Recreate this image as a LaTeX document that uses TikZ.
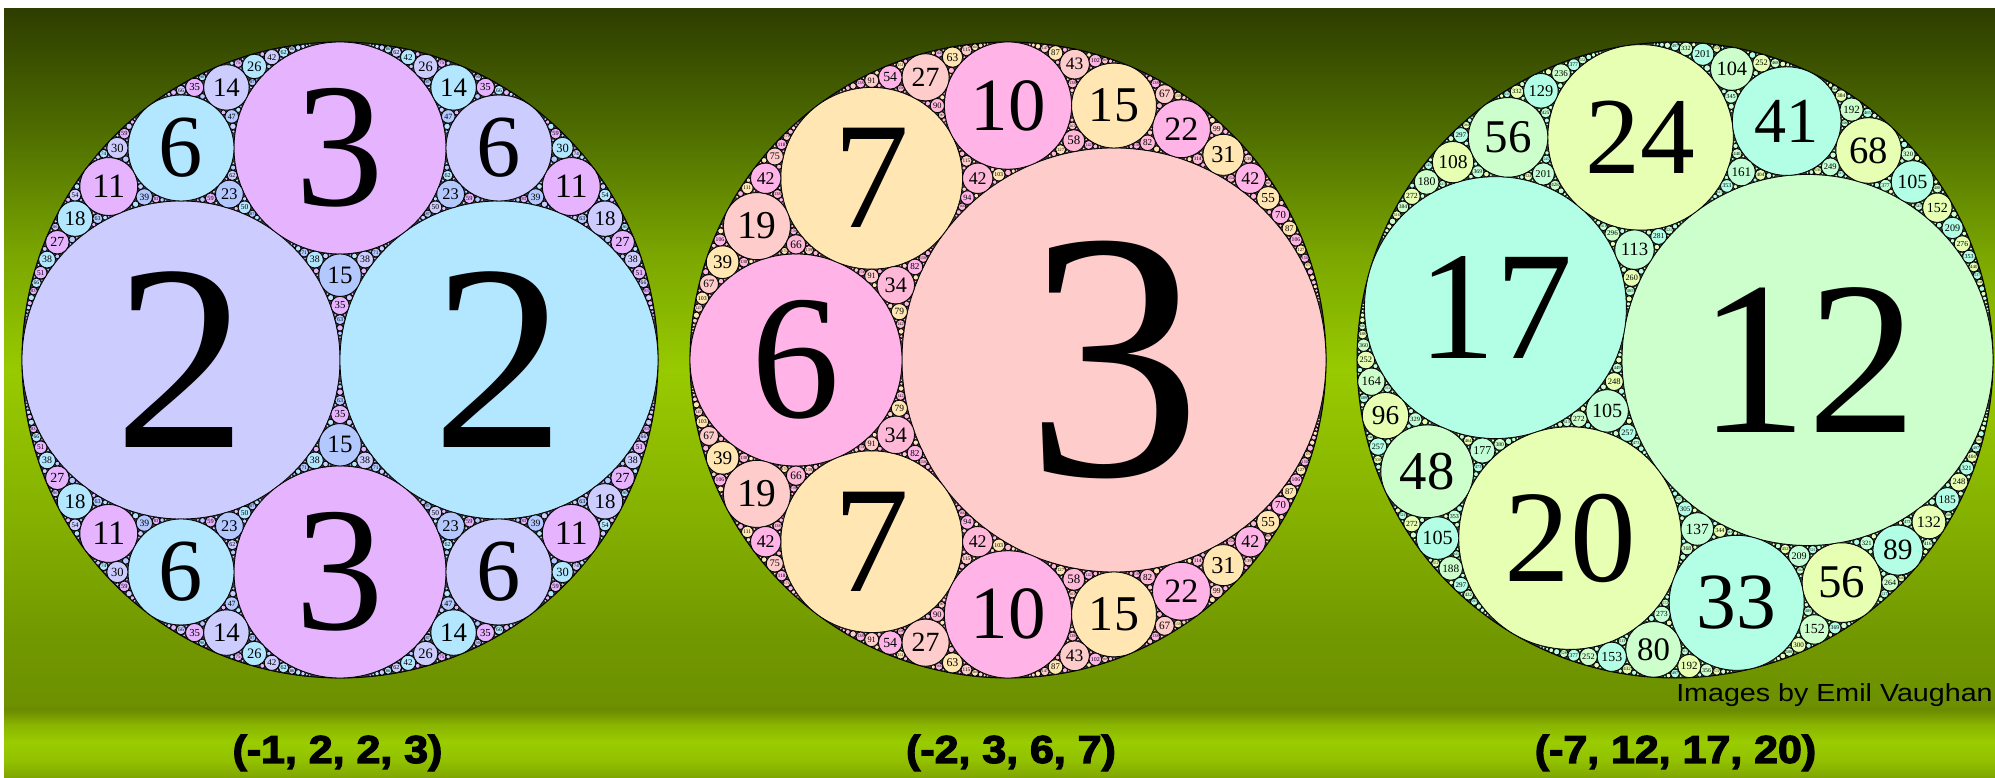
\documentclass[tikz,border=0pt]{standalone}
\usepackage{fontspec}
\setmainfont{Liberation Serif}
\newfontfamily\capfont{Liberation Sans}[BoldFeatures={FakeBold=3}]
\newfontfamily\credfont{Liberation Sans}

\definecolor{gapcol}{HTML}{3A3A3A}
\definecolor{gA1}{HTML}{B3C8FF}
\definecolor{gA2}{HTML}{CCCCFF}
\definecolor{gA3}{HTML}{B3E6FF}
\definecolor{gA4}{HTML}{E6B3FF}
\definecolor{gB1}{HTML}{FFB8D8}
\definecolor{gB2}{HTML}{FFCCCC}
\definecolor{gB3}{HTML}{FFB3E6}
\definecolor{gB4}{HTML}{FFE6B3}
\definecolor{gC1}{HTML}{C2FFD6}
\definecolor{gC2}{HTML}{CCFFCC}
\definecolor{gC3}{HTML}{B3FFE6}
\definecolor{gC4}{HTML}{E6FFB3}

\definecolor{m0}{HTML}{6C9000}
\definecolor{m1}{HTML}{729800}
\definecolor{m2}{HTML}{86B200}
\definecolor{m3}{HTML}{98CA00}
\definecolor{m4}{HTML}{7AA600}
\definecolor{m5}{HTML}{4D6B00}
\definecolor{m6}{HTML}{2E3D00}
\definecolor{b0}{HTML}{7FA500}
\definecolor{b1}{HTML}{92C200}
\definecolor{b2}{HTML}{9ACC00}
\definecolor{b3}{HTML}{8AB400}
\definecolor{b4}{HTML}{6B8C00}

\pgfdeclareverticalshading{mainbg}{100bp}{color(0bp)=(m0); color(25bp)=(m0); color(30.15bp)=(m1); color(39.23bp)=(m2); color(49.18bp)=(m3); color(57.47bp)=(m4); color(66.56bp)=(m5); color(75bp)=(m6); color(100bp)=(m6)}
\pgfdeclareverticalshading{bandbg}{100bp}{color(0bp)=(b0); color(25bp)=(b0); color(37.9bp)=(b1); color(50.7bp)=(b2); color(62.9bp)=(b3); color(73.6bp)=(b4); color(100bp)=(b4)}

\tikzset{
  circlab/.style={inner sep=0pt, outer sep=0pt, font=\fontsize{10}{10}\selectfont, text=black},
  capstyle/.style={anchor=base, inner sep=0pt, font=\capfont\bfseries\fontsize{39}{39}\selectfont, xscale=1.1, text=black},
  credit/.style={anchor=base west, inner sep=0pt, font=\credfont\fontsize{24.7}{25}\selectfont, xscale=1.16, text=black},
  outerdisk/.style={fill=gapcol, draw=black, line width=1pt}
}

% circle = {k}{k*x}{k*y}{slot}
\def\Unpk#1#2#3#4#5{%
  \expandafter\def\csname Q#1k\endcsname{#2}%
  \expandafter\def\csname Q#1x\endcsname{#3}%
  \expandafter\def\csname Q#1y\endcsname{#4}%
  \expandafter\def\csname Q#1s\endcsname{#5}}

\def\DrawCirc{%
  \edef\QX{\fpeval{round(\GCx+\GSc*(\QEx)/(\QEk),2)}}%
  \edef\QY{\fpeval{round(\GCy+\GSc*(\QEy)/(\QEk),2)}}%
  \edef\QR{\fpeval{round(\GSc/(\QEk),3)}}%
  \edef\QW{\fpeval{round(min(0.8,0.28*\QR),3)}}%
  \edef\QC{\Ggn\QEs}%
  \filldraw[fill=\QC,draw=black,line width=\QW pt] (\QX,\QY) circle[radius=\QR pt];%
  \ifdim\QR pt<3.4pt\else
    \ifnum\QEk<10 \def\QF{1.67}\else\ifnum\QEk<100 \def\QF{1.18}\else\ifnum\QEk<1000 \def\QF{0.95}\else\def\QF{0.72}\fi\fi\fi
    \edef\QS{\fpeval{round(\QF*\QR/10,4)}}%
    \node[circlab,scale=\QS] at (\QX,\QY) {\QEk};%
  \fi}

\def\RootC#1#2#3#4{\begingroup\def\QEk{#1}\def\QEx{#2}\def\QEy{#3}\def\QEs{#4}\DrawCirc\endgroup}

\def\Gap#1#2#3#4{%
  \begingroup
  \Unpk A#1\Unpk B#2\Unpk C#3\Unpk D#4%
  \edef\QEk{\the\numexpr 2*(\QAk+\QBk+\QCk)-(\QDk)\relax}%
  \ifnum\QEk>\GKmax\relax
    \let\QNext\relax
  \else
    \edef\QEx{\fpeval{2*((\QAx)+(\QBx)+(\QCx))-(\QDx)}}%
    \edef\QEy{\fpeval{2*((\QAy)+(\QBy)+(\QCy))-(\QDy)}}%
    \let\QEs\QDs
    \DrawCirc
    \edef\QNext{%
      \noexpand\Gap{{\QAk}{\QAx}{\QAy}{\QAs}}{{\QBk}{\QBx}{\QBy}{\QBs}}{{\QEk}{\QEx}{\QEy}{\QEs}}{{\QCk}{\QCx}{\QCy}{\QCs}}%
      \noexpand\Gap{{\QAk}{\QAx}{\QAy}{\QAs}}{{\QCk}{\QCx}{\QCy}{\QCs}}{{\QEk}{\QEx}{\QEy}{\QEs}}{{\QBk}{\QBx}{\QBy}{\QBs}}%
      \noexpand\Gap{{\QBk}{\QBx}{\QBy}{\QBs}}{{\QCk}{\QCx}{\QCy}{\QCs}}{{\QEk}{\QEx}{\QEy}{\QEs}}{{\QAk}{\QAx}{\QAy}{\QAs}}}%
  \fi
  \QNext
  \endgroup}

% whole gasket from a root quadruple (outer circle first)
\def\Gasket#1#2#3#4{%
  \fill[outerdisk] (\GCx,\GCy) circle[radius=318pt];%
  \RootC#2\RootC#3\RootC#4%
  \Gap{#2}{#3}{#4}{#1}%
  \Gap{#1}{#3}{#4}{#2}%
  \Gap{#1}{#2}{#4}{#3}%
  \Gap{#1}{#2}{#3}{#4}}

\begin{document}
\begin{tikzpicture}[x=1pt,y=1pt]
\useasboundingbox (0,0) rectangle (1995,778);
\fill[white] (0,0) rectangle (1995,778);
\shade[shading=mainbg] (4,70) rectangle (1995,769);
\shade[shading=bandbg] (4,0) rectangle (1995,70);

% gasket (-1,2,2,3)
\def\Ggn{gA}\def\GCx{340}\def\GCy{418}\def\GSc{318}\def\GKmax{245}
\Gasket{{-1}{0}{0}{1}}{{2}{-1}{0}{2}}{{2}{1}{0}{3}}{{3}{0}{2}{4}}

% gasket (-2,3,6,7)
\def\Ggn{gB}\def\GCx{1008}\def\GCy{418}\def\GSc{636}\def\GKmax{489}
\Gasket{{-2}{0}{0}{1}}{{3}{0.5}{0}{2}}{{6}{-2}{0}{3}}{{7}{-1.5}{2}{4}}

% gasket (-7,12,17,20)
\def\Ggn{gC}\def\GCx{1675}\def\GCy{418}\def\GSc{2226}\def\GKmax{1712}
\Gasket{{-7}{0}{0}{1}}{{12}{5/7}{0}{2}}{{17}{-48/35}{0.4}{3}}{{20}{-33/35}{-1.6}{4}}

\node[capstyle] (capA) at (337.5,15) {(-1, 2, 2, 3)};
\node[capstyle] (capB) at (1011,15) {(-2, 3, 6, 7)};
\node[capstyle] (capC) at (1675.5,15) {(-7, 12, 17, 20)};
\node[credit] (credit) at (1676,76) {Images by Emil Vaughan};
\end{tikzpicture}
\end{document}
